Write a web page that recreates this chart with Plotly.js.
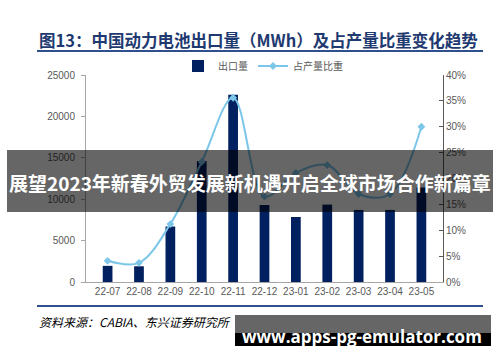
<!DOCTYPE html>
<html>
<head>
<meta charset="utf-8">
<script src="https://cdn.plot.ly/plotly-3.0.1.min.js"></script>
<style>html,body{margin:0;padding:0;background:#fff;}#chart{width:500px;height:362px;}</style>
</head>
<body>
<div id="chart"></div>
<script>
const categories = ['22-07','22-08','22-09','22-10','22-11','22-12','23-01','23-02','23-03','23-04','23-05'];
const exportVolume = [1950, 1900, 6700, 14600, 22600, 9300, 7850, 9350, 8700, 8700, 11400];
const shareOfOutput = [0.041, 0.037, 0.112, 0.232, 0.356, 0.165, 0.211, 0.226, 0.170, 0.170, 0.300];
const seriesNames = ['出口量', '占产量比重'];
const titleText = '图13：中国动力电池出口量（MWh）及占产量比重变化趋势';
const sourceText = '资料来源：CABIA、东兴证券研究所';
const bannerText = '展望2023年新春外贸发展新机遇开启全球市场合作新篇章';
const watermarkText = 'www.apps-pg-emulator.com';

// pixel -> paper helpers (plot area: x 86..443, y 75..282)
const PL = 86, PR = 443, PT = 75, PB = 282;
const px = v => (v - PL) / (PR - PL);
const py = v => (PB - v) / (PB - PT);

const tickFont = {family: 'Liberation Sans, Arial, sans-serif', size: 10, color: '#595959'};

const traces = [
  {
    type: 'bar', name: seriesNames[0], x: categories, y: exportVolume,
    marker: {color: '#002060'}, yaxis: 'y'
  },
  {
    type: 'scatter', mode: 'lines+markers', name: seriesNames[1], x: categories, y: shareOfOutput,
    line: {color: '#7cc6ea', width: 2, shape: 'spline', smoothing: 1},
    marker: {symbol: 'diamond', size: 6, color: '#7cc6ea'}, yaxis: 'y2'
  }
];

const layout = {
  width: 500, height: 362,
  margin: {l: PL, r: 500 - PR, t: PT, b: 362 - PB},
  paper_bgcolor: '#ffffff', plot_bgcolor: '#ffffff',
  bargap: 0.69,
  showlegend: true,
  legend: {
    orientation: 'h', x: px(178), y: py(66), xanchor: 'left', yanchor: 'middle',
    font: {family: 'Noto Sans CJK SC, sans-serif', size: 10, color: '#595959'},
    bgcolor: 'rgba(0,0,0,0)'
  },
  xaxis: {
    type: 'category', showline: true, linecolor: '#a6a6a6', linewidth: 1,
    ticks: '', tickfont: tickFont, showgrid: false, zeroline: false, fixedrange: true
  },
  yaxis: {
    range: [0, 25000], dtick: 5000, showgrid: false, zeroline: false,
    showline: true, linecolor: '#a6a6a6', linewidth: 1,
    ticks: 'outside', ticklen: 4, tickcolor: '#a6a6a6',
    tickfont: tickFont, tickformat: 'd', ticklabelstandoff: 4
  },
  yaxis2: {
    range: [0, 0.40], dtick: 0.05, overlaying: 'y', side: 'right',
    showgrid: false, zeroline: false, showline: true, linecolor: '#595959', linewidth: 1,
    ticks: 'inside', ticklen: 4, tickcolor: '#595959',
    tickfont: tickFont, tickformat: '.0%'
  },
  shapes: [
    {type: 'line', xref: 'paper', yref: 'paper', x0: px(37), x1: px(483), y0: py(51), y1: py(51),
     line: {color: '#2f4f8f', width: 2}},
    {type: 'line', xref: 'paper', yref: 'paper', x0: px(37), x1: px(483), y0: py(306), y1: py(306),
     line: {color: '#2f4f8f', width: 2}},
    {type: 'rect', xref: 'paper', yref: 'paper', layer: 'above', x0: px(7), x1: px(493), y0: py(212), y1: py(150),
     fillcolor: 'rgba(0,0,0,0.6)', line: {width: 0}},
    {type: 'rect', xref: 'paper', yref: 'paper', layer: 'above', x0: px(235), x1: px(491), y0: py(333), y1: py(315),
     fillcolor: 'rgba(0,0,0,0.6)', line: {width: 0}},
    {type: 'rect', xref: 'paper', yref: 'paper', layer: 'above', x0: px(235), x1: px(491), y0: py(346), y1: py(333),
     fillcolor: '#000000', line: {width: 0}}
  ],
  annotations: [
    {xref: 'paper', yref: 'paper', x: px(37), y: py(40), xanchor: 'left', yanchor: 'middle', showarrow: false,
     text: '<b>' + titleText + '</b>', font: {family: 'Noto Sans CJK SC, sans-serif', size: 16.5, color: '#1f3a70'}},
    {xref: 'paper', yref: 'paper', x: px(37), y: py(321), xanchor: 'left', yanchor: 'middle', showarrow: false,
     text: '<i>' + sourceText + '</i>', font: {family: 'Noto Sans CJK SC, sans-serif', size: 12, color: '#000000'}},
    {xref: 'paper', yref: 'paper', x: px(250), y: py(182), xanchor: 'center', yanchor: 'middle', showarrow: false,
     text: '<b>' + bannerText + '</b>', font: {family: 'Noto Sans CJK SC, sans-serif', size: 19, color: '#ffffff'}},
    {xref: 'paper', yref: 'paper', x: px(362), y: py(336), xanchor: 'center', yanchor: 'middle', showarrow: false,
     text: '<b>' + watermarkText + '</b>', font: {family: 'Open Sans, sans-serif', size: 17, color: '#ffffff'}}
  ]
};

Plotly.newPlot('chart', traces, layout, {displayModeBar: false, staticPlot: true});
</script>
</body>
</html>
